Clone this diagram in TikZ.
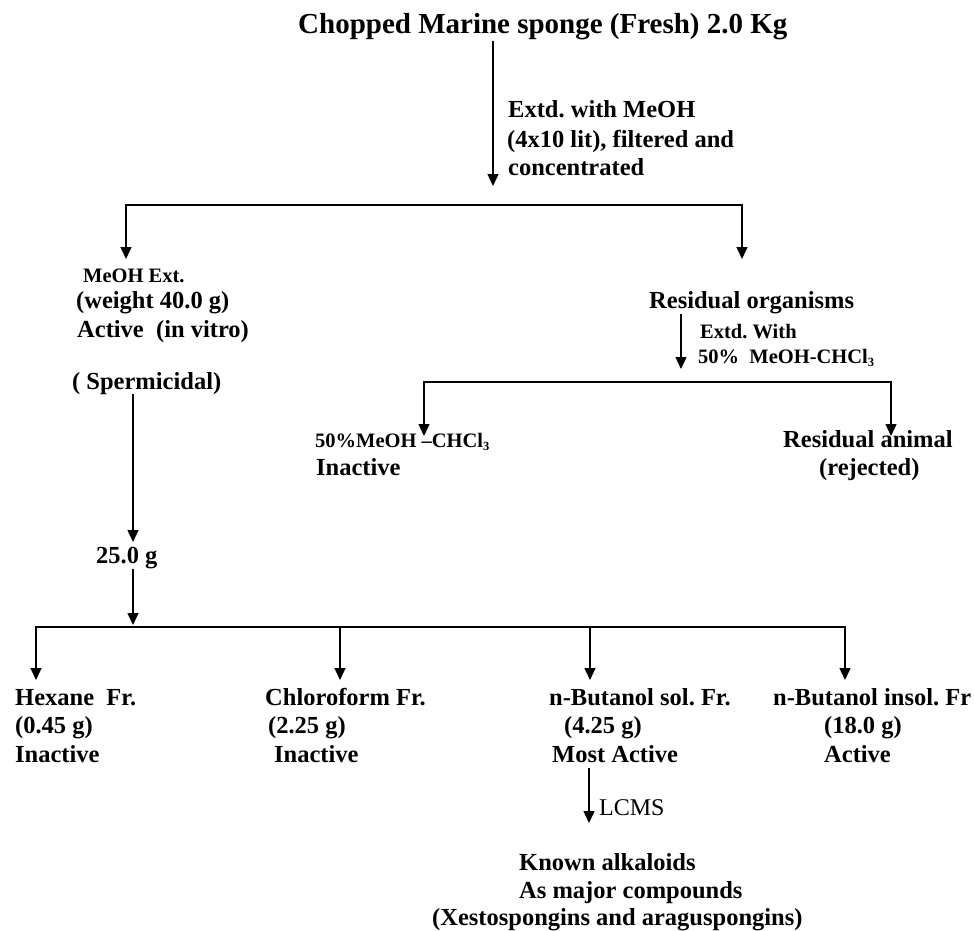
\documentclass[tikz,border=0pt]{standalone}
\usepackage{fontspec}
\setmainfont{Liberation Serif}
\usetikzlibrary{arrows.meta}
\frenchspacing
\newcommand{\subthree}{\raisebox{-3pt}{\fontsize{12.5}{13}\selectfont 3}}
\begin{document}
\begin{tikzpicture}[x=1pt,y=-1pt,
  txt/.style={anchor=base west,inner sep=0pt},
  ttl/.style={txt,font=\fontsize{29}{34}\selectfont\bfseries},
  bd/.style={txt,font=\fontsize{24.5}{28.5}\selectfont\bfseries},
  sm/.style={txt,font=\fontsize{20.5}{24}\selectfont\bfseries},
  rg/.style={txt,font=\fontsize{24}{28}\selectfont},
  ln/.style={line width=1.4pt,black},
  arr/.style={ln,-{Triangle[width=11pt,length=12pt]}},
  arrs/.style={ln,{Triangle[width=11pt,length=12pt]}-{Triangle[width=11pt,length=12pt]}}]
\useasboundingbox (0,0) rectangle (974,931);

% texts
\node[ttl] (title) at (298,34) {Chopped Marine sponge (Fresh) 2.0 Kg};
\node[bd] (e1) at (508,118) {Extd. with MeOH};
\node[bd] (e2) at (507,147) {(4x10 lit), filtered and};
\node[bd] (e3) at (508,175) {concentrated};

\node[sm] (m1) at (83,282) {MeOH Ext.};
\node[bd] (m2) at (76,308) {(weight 40.0 g)};
\node[bd] (m3) at (77,337) {Active\ \ (in vitro)};
\node[bd] (m4) at (72,389) {( Spermicidal)};

\node[bd] (r1) at (649,308) {Residual organisms};
\node[sm] (x1) at (700,338) {Extd. With};
\node[sm] (x2) at (698,363) {50\%\ \ MeOH-CHCl\subthree};

\node[sm] (s1) at (315,447) {50\%MeOH –CHCl\subthree};
\node[bd] (s2) at (316,475) {Inactive};
\node[bd] (ra1) at (783,447) {Residual animal};
\node[bd] (ra2) at (819,475) {(rejected)};

\node[bd] (g) at (96,563) {25.0 g};

\node[bd] (h1) at (15,705) {Hexane\ \ Fr.};
\node[bd] (h2) at (15,733) {(0.45 g)};
\node[bd] (h3) at (15,762) {Inactive};
\node[bd] (c1) at (265,705) {Chloroform Fr.};
\node[bd] (c2) at (268,733) {(2.25 g)};
\node[bd] (c3) at (274,762) {Inactive};
\node[bd] (b1) at (549,705) {n-Butanol sol. Fr.};
\node[bd] (b2) at (564,733) {(4.25 g)};
\node[bd] (b3) at (552,762) {Most Active};
\node[bd] (i1) at (773,705) {n-Butanol insol. Fr};
\node[bd] (i2) at (824,733) {(18.0 g)};
\node[bd] (i3) at (824,762) {Active};

\node[rg] (lc) at (599,815) {LCMS};
\node[bd] (k1) at (519,870) {Known alkaloids};
\node[bd] (k2) at (519,898) {As major compounds};
\node[bd] (k3) at (432,925) {(Xestospongins and araguspongins)};

% junction coordinates
\coordinate (a1) at (493,186);
\coordinate (bL) at (126,205);
\coordinate (bR) at (742,205);
\coordinate (tL) at (126,259);
\coordinate (tR) at (742,259);
\coordinate (a2) at (133,542);
\coordinate (a3) at (133,625);
\coordinate (d1) at (36,627);
\coordinate (d2) at (340,627);
\coordinate (d3) at (590,627);
\coordinate (d4) at (845,627);
\coordinate (f1) at (36,680);
\coordinate (f2) at (340,680);
\coordinate (f3) at (590,680);
\coordinate (f4) at (845,680);
\coordinate (a5) at (681,369);
\coordinate (q1) at (424,382);
\coordinate (q2) at (891,382);
\coordinate (u1) at (424,436);
\coordinate (u2) at (891,436);
\coordinate (l0) at (589,768);
\coordinate (l1) at (589,823);

% connectors
\draw[arr] (title.south -| a1) -- (a1);
\draw[arrs] (tL) -- (bL) -- (bR) -- (tR);
\draw[arr] (m4.south -| a2) -- (a2);
\draw[arr] (g.south -| a3) -- (a3);
\draw[arrs] (f1) -- (d1) -- (d4) -- (f4);
\draw[arr] (d2) -- (f2);
\draw[arr] (d3) -- (f3);
\draw[arr] (r1.south -| a5) -- (a5);
\draw[arrs] (u1) -- (q1) -- (q2) -- (u2);
\draw[arr] (l0) -- (l1);
\end{tikzpicture}
\end{document}
